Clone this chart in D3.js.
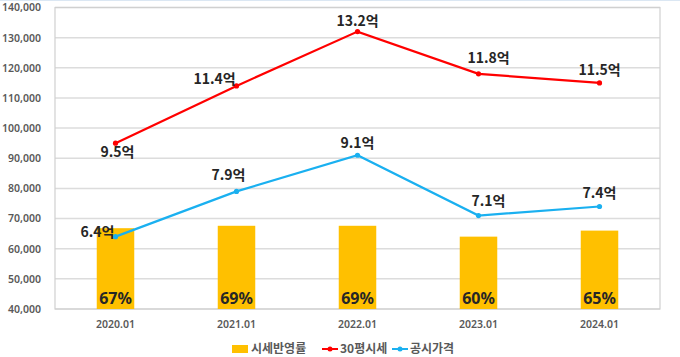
<!DOCTYPE html>
<html><head><meta charset="utf-8">
<script src="https://cdn.jsdelivr.net/npm/d3@7/dist/d3.min.js"></script>
<style>
html,body{margin:0;padding:0;background:#fff;}
svg{display:block;font-family:"Noto Sans CJK KR","Noto Sans",sans-serif;}
</style></head>
<body><svg id="c" width="680" height="357"></svg>
<script>
const categories = ["2020.01","2021.01","2022.01","2023.01","2024.01"];
const marketPrice = [95000,114000,132000,118000,115000];      // 30평시세
const officialPrice = [64000,79000,91000,71000,74000];        // 공시가격
const ratio = [67,69,69,60,65];                              // 시세반영률 (%)
const marketLabels = ["9.5억","11.4억","13.2억","11.8억","11.5억"];
const officialLabels = ["6.4억","7.9억","9.1억","7.1억","7.4억"];
const yTicks = [40000,50000,60000,70000,80000,90000,100000,110000,120000,130000,140000];
const legendNames = ["시세반영률","30평시세","공시가격"];

// label placement (style, not data)
const marketOff = [[2,14],[-22,-2],[0,-6],[10,-11],[0,-8]];
const officialOff = [[-18,0],[-8,-11],[0,-7],[10,-10],[0,-8]];

const svg = d3.select("#c");
const L=55, R=660, T=7.5, B=309;

// faint top strip artifact
svg.append("line").attr("x1",0).attr("x2",680).attr("y1",0.5).attr("y2",0.5)
  .attr("stroke","#dbe7f3").attr("stroke-width",1);

const x = d3.scaleBand().domain(categories).range([L,R]).paddingInner(0.69).paddingOuter(0.345);
const xc = d => x(d)+x.bandwidth()/2;
const y = d3.scaleLinear().domain([40000,140000]).range([B,T]);
const y2 = d3.scaleLinear().domain([0,250]).range([B,T]);

// gridlines
svg.append("g").selectAll("line").data(yTicks).join("line")
  .attr("x1",L).attr("x2",R).attr("y1",d=>y(d)).attr("y2",d=>y(d))
  .attr("stroke","#dcdcdc").attr("stroke-width",1.5);
// plot border
svg.append("rect").attr("x",L).attr("y",T).attr("width",R-L).attr("height",B-T)
  .attr("fill","none").attr("stroke","#d0d0d0").attr("stroke-width",1.2);

// y axis
const ya = svg.append("g").attr("transform",`translate(${L},0)`)
  .call(d3.axisLeft(y).tickValues(yTicks).tickFormat(d3.format(",")).tickSize(0).tickPadding(14));
ya.select(".domain").remove();
ya.selectAll("text").attr("fill","#595959").attr("font-size","10.5px").attr("font-weight","600")
  .attr("font-family","'Noto Sans','Open Sans',sans-serif");

// x axis
const xa = svg.append("g").attr("transform",`translate(0,${B})`)
  .call(d3.axisBottom(x).tickSize(0).tickPadding(12));
xa.select(".domain").remove();
xa.selectAll("text").attr("fill","#595959").attr("font-size","10.5px").attr("font-weight","600")
  .attr("font-family","'Noto Sans','Open Sans',sans-serif");

// bars
svg.append("g").selectAll("rect").data(ratio).join("rect")
  .attr("x",(d,i)=>x(categories[i])).attr("width",x.bandwidth())
  .attr("y",d=>y2(d)).attr("height",d=>B-y2(d)).attr("fill","#FFC000");
svg.append("g").selectAll("text").data(ratio).join("text")
  .attr("x",(d,i)=>xc(categories[i])).attr("y",B-5).attr("text-anchor","middle")
  .attr("font-size","16px").attr("font-weight","700").attr("fill","#262626")
  .attr("font-family","'Noto Sans','Open Sans',sans-serif")
  .text(d=>d+"%");

function series(vals,color,labels,offs){
  const line = d3.line().x((d,i)=>xc(categories[i])).y(d=>y(d));
  svg.append("path").datum(vals).attr("d",line).attr("fill","none")
    .attr("stroke",color).attr("stroke-width",2.2);
  svg.append("g").selectAll("circle").data(vals).join("circle")
    .attr("cx",(d,i)=>xc(categories[i])).attr("cy",d=>y(d)).attr("r",2.6).attr("fill",color);
  svg.append("g").selectAll("text").data(vals).join("text")
    .attr("x",(d,i)=>xc(categories[i])+offs[i][0]).attr("y",(d,i)=>y(d)+offs[i][1])
    .attr("text-anchor","middle").attr("font-size","14px").attr("font-weight","700")
    .attr("fill","#262626").text((d,i)=>labels[i]);
}
series(marketPrice,"#FF0000",marketLabels,marketOff);
series(officialPrice,"#1AB0F0",officialLabels,officialOff);

// legend
const lg = svg.append("g").attr("font-size","12px").attr("font-weight","600").attr("fill","#595959");
lg.append("rect").attr("x",232).attr("y",345).attr("width",16).attr("height",8).attr("fill","#FFC000");
lg.append("text").attr("x",251).attr("y",353).text(legendNames[0]);
lg.append("line").attr("x1",322).attr("x2",338).attr("y1",349).attr("y2",349).attr("stroke","#FF0000").attr("stroke-width",2);
lg.append("circle").attr("cx",330).attr("cy",349).attr("r",2.5).attr("fill","#FF0000");
lg.append("text").attr("x",340).attr("y",353).text(legendNames[1]);
lg.append("line").attr("x1",392).attr("x2",408).attr("y1",349).attr("y2",349).attr("stroke","#1AB0F0").attr("stroke-width",2);
lg.append("circle").attr("cx",400).attr("cy",349).attr("r",2.5).attr("fill","#1AB0F0");
lg.append("text").attr("x",410).attr("y",353).text(legendNames[2]);
</script></body></html>
